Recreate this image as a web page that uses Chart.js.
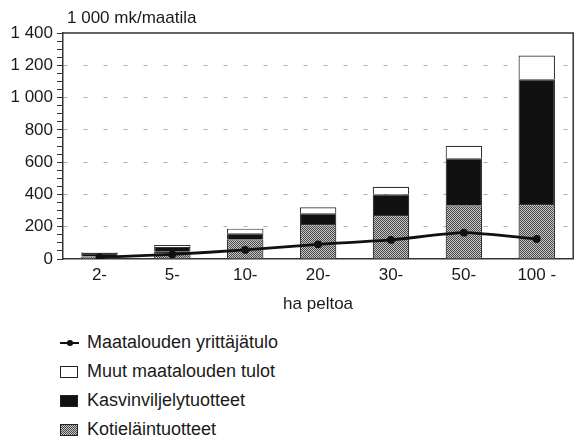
<!DOCTYPE html>
<html>
<head>
<meta charset="utf-8">
<script src="https://cdn.jsdelivr.net/npm/chart.js@4"></script>
<style>
  body { margin: 0; background: #fff; font-family: "Liberation Sans", Arial, sans-serif; color: #1a1a1a; }
  #wrap { position: relative; width: 580px; height: 440px; }
  #c { position: absolute; left: 0; top: 0; }
  #legend { position: absolute; left: 60px; top: 328px; font-size: 18px; }
  .row { display: flex; align-items: center; height: 29px; }
  .mk { width: 18px; height: 12px; margin-right: 9px; box-sizing: border-box; border: 1.2px solid #222; }
  .ln { width: 19px; height: 12px; margin-right: 8px; position: relative; }
  .ln:before { content: ""; position: absolute; left: 0; right: 0; top: 5px; height: 2.5px; background: #111; }
  .ln:after { content: ""; position: absolute; left: 7px; top: 3.5px; width: 5.5px; height: 5.5px; border-radius: 50%; background: #111; }
</style>
</head>
<body>
<div id="wrap">
  <canvas id="c" width="580" height="325"></canvas>
  <div id="legend">
    <div class="row"><span class="ln"></span>Maatalouden yrittäjätulo</div>
    <div class="row"><span class="mk" style="background:#fff"></span>Muut maatalouden tulot</div>
    <div class="row"><span class="mk" style="background:#111"></span>Kasvinviljelytuotteet</div>
    <div class="row"><span class="mk" id="patBox"></span>Kotieläintuotteet</div>
  </div>
</div>
<script>
const categories = ['2-', '5-', '10-', '20-', '30-', '50-', '100 -'];
const kotielain = [15, 45, 122, 217, 273, 333, 340];
const kasvinviljely = [22, 30, 37, 66, 128, 291, 773];
const muutTulot = [5, 12, 29, 37, 47, 78, 147];
const yrittajatulo = [10, 29, 56, 91, 118, 163, 124];

// stippled grey fill like the print
function makePattern() {
  const p = document.createElement('canvas');
  p.width = 2; p.height = 2;
  const g = p.getContext('2d');
  g.fillStyle = '#c4c4c4'; g.fillRect(0, 0, 2, 2);
  g.fillStyle = '#4a4a4a'; g.fillRect(0, 0, 1, 1); g.fillRect(1, 1, 1, 1);
  return p;
}
const patCanvas = makePattern();
const ctx = document.getElementById('c').getContext('2d');
const pattern = ctx.createPattern(patCanvas, 'repeat');
document.getElementById('patBox').style.background = 'url(' + patCanvas.toDataURL() + ')';

const fmt = v => v >= 1000 ? Math.floor(v / 1000) + ' ' + String(v % 1000).padStart(3, '0') : String(v);
const FONT = '"Liberation Sans", Arial, sans-serif';

const frame = {
  id: 'frame',
  afterDraw(chart) {
    const a = chart.chartArea, c = chart.ctx;
    c.save();
    c.strokeStyle = '#333';
    c.lineWidth = 1.5;
    c.beginPath();
    c.moveTo(a.left, a.top);
    c.lineTo(a.right, a.top);
    c.lineTo(a.right, a.bottom);
    c.stroke();
    c.fillStyle = '#1a1a1a';
    c.font = '17px ' + FONT;
    c.textBaseline = 'alphabetic';
    c.fillText('1 000 mk/maatila', a.left + 4, a.top - 10);
    c.restore();
  }
};

new Chart(ctx, {
  type: 'bar',
  data: {
    labels: categories,
    datasets: [
      {
        type: 'line',
        label: 'Maatalouden yrittäjätulo',
        data: yrittajatulo,
        borderColor: '#111',
        backgroundColor: '#111',
        borderWidth: 2.8,
        pointRadius: 2.5,
        tension: 0.2,
        order: 0
      },
      { label: 'Kotieläintuotteet', data: kotielain, backgroundColor: pattern, borderColor: '#333', borderWidth: 1.2, order: 1 },
      { label: 'Kasvinviljelytuotteet', data: kasvinviljely, backgroundColor: '#111', borderColor: '#333', borderWidth: 1.2, order: 1 },
      { label: 'Muut maatalouden tulot', data: muutTulot, backgroundColor: '#fff', borderColor: '#333', borderWidth: 1.2, order: 1 }
    ]
  },
  options: {
    responsive: false,
    animation: false,
    layout: { padding: { top: 33, right: 2 } },
    datasets: { bar: { categoryPercentage: 1, barPercentage: 0.5 } },
    plugins: { legend: { display: false }, tooltip: { enabled: false } },
    font: { family: FONT },
    scales: {
      x: {
        stacked: true,
        grid: { display: false, drawTicks: false, tickLength: 0 },
        border: { color: '#333', width: 1.5 },
        ticks: { color: '#1a1a1a', font: { size: 17 }, padding: 6 },
        title: { display: true, text: 'ha peltoa', color: '#1a1a1a', font: { size: 17 }, padding: { top: 0, bottom: 10 } },
        afterFit(s) { s.height = 66; }
      },
      y: {
        stacked: true,
        min: 0,
        max: 1400,
        border: { color: '#333', width: 1.5, dash: [4, 16] },
        grid: {
          color: c => (c.tick.value % 200 === 0 && c.tick.value > 0 && c.tick.value < 1400) ? '#b0b0b0' : 'transparent',
          tickColor: '#333',
          tickLength: 6,
          lineWidth: 1
        },
        ticks: {
          stepSize: 50,
          autoSkip: false,
          color: '#1a1a1a',
          font: { size: 17 },
          padding: 4,
          callback: v => v % 200 === 0 ? fmt(v) : ''
        },
        afterFit(s) { s.width = 63; }
      }
    }
  },
  plugins: [frame]
});
</script>
</body>
</html>
